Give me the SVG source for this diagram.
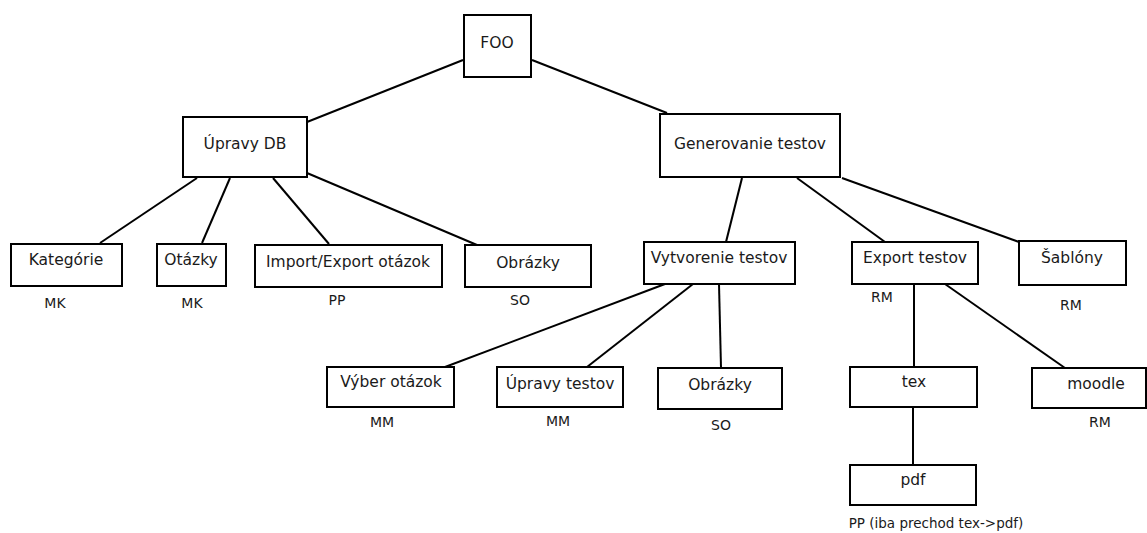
<svg xmlns="http://www.w3.org/2000/svg" width="1147" height="533" viewBox="0 0 1147 533">
<style>
.n{fill:#fff;stroke:#000;stroke-width:2}
line{stroke:#000;stroke-width:2}
text{font-family:"DejaVu Sans",sans-serif;font-size:15.5px;fill:#1a1a1a;text-anchor:middle}
text.a{font-size:14px}
text.p{font-size:13.5px}
</style>
<rect width="1147" height="533" fill="#fff"/>
<g id="connectors">
<line x1="463" y1="60" x2="307" y2="122"/>
<line x1="532" y1="60" x2="667" y2="113"/>
<line x1="197" y1="178" x2="100" y2="243"/>
<line x1="230" y1="178" x2="202" y2="243"/>
<line x1="273" y1="178" x2="329" y2="244"/>
<line x1="307" y1="173" x2="477" y2="245"/>
<line x1="742" y1="178" x2="726" y2="242"/>
<line x1="797" y1="178" x2="885" y2="242"/>
<line x1="842" y1="178" x2="1019" y2="242"/>
<line x1="665" y1="284" x2="445" y2="367"/>
<line x1="693" y1="284" x2="587" y2="367"/>
<line x1="719" y1="284" x2="721" y2="368"/>
<line x1="914" y1="284" x2="914" y2="367"/>
<line x1="945" y1="284" x2="1065" y2="368"/>
<line x1="913" y1="407" x2="913" y2="465"/>
</g>
<g id="foo"><rect class="n" x="464" y="15" width="67" height="62"/><text x="497" y="48">FOO</text></g>
<g id="upravy-db"><rect class="n" x="183" y="117" width="124" height="60"/><text x="245" y="149">Úpravy DB</text></g>
<g id="generovanie"><rect class="n" x="660" y="114" width="180" height="63"/><text x="750" y="149">Generovanie testov</text></g>
<g id="kategorie"><rect class="n" x="11" y="244" width="111" height="42"/><text x="66" y="265">Kategórie</text><text class="a" x="55" y="308">MK</text></g>
<g id="otazky"><rect class="n" x="157" y="244" width="69" height="42"/><text x="191" y="265">Otázky</text><text class="a" x="192" y="308">MK</text></g>
<g id="import-export"><rect class="n" x="255" y="245" width="187" height="42"/><text x="348" y="267">Import/Export otázok</text><text class="a" x="337" y="305">PP</text></g>
<g id="obrazky1"><rect class="n" x="465" y="245" width="126" height="42"/><text x="528" y="268">Obrázky</text><text class="a" x="520" y="305">SO</text></g>
<g id="vytvorenie"><rect class="n" x="644" y="242" width="151" height="42"/><text x="719" y="263">Vytvorenie testov</text></g>
<g id="export-testov"><rect class="n" x="852" y="242" width="126" height="42"/><text x="915" y="263">Export testov</text><text class="a" x="882" y="302">RM</text></g>
<g id="sablony"><rect class="n" x="1019" y="241" width="107" height="44"/><text x="1072" y="263">Šablóny</text><text class="a" x="1071" y="310">RM</text></g>
<g id="vyber"><rect class="n" x="327" y="367" width="127" height="40"/><text x="391" y="387">Výber otázok</text><text class="a" x="382" y="427">MM</text></g>
<g id="upravy-testov"><rect class="n" x="497" y="367" width="126" height="40"/><text x="560" y="389">Úpravy testov</text><text class="a" x="558" y="426">MM</text></g>
<g id="obrazky2"><rect class="n" x="658" y="368" width="124" height="41"/><text x="720" y="390">Obrázky</text><text class="a" x="721" y="430">SO</text></g>
<g id="tex"><rect class="n" x="850" y="367" width="127" height="40"/><text x="914" y="387">tex</text></g>
<g id="moodle"><rect class="n" x="1032" y="368" width="114" height="40"/><text x="1096" y="389">moodle</text><text class="a" x="1100" y="427">RM</text></g>
<g id="pdf"><rect class="n" x="850" y="465" width="126" height="40"/><text x="913" y="485">pdf</text><text class="p" x="936" y="528">PP (iba prechod tex-&gt;pdf)</text></g>
</svg>
